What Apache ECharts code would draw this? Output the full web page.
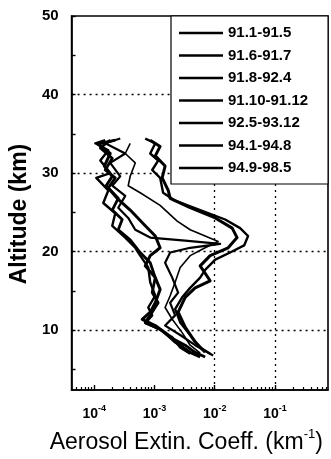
<!DOCTYPE html>
<html><head><meta charset="utf-8">
<script src="https://cdn.jsdelivr.net/npm/echarts@6/dist/echarts.min.js"></script>
<style>html,body{margin:0;padding:0;background:#fff}#c{width:331px;height:459px}</style>
</head><body><div id="c"></div>
<script>
// ---- data (altitude km, aerosol extinction coefficient km^-1) ----
const seriesNames = ['91.1-91.5','91.6-91.7','91.8-92.4','91.10-91.12','92.5-93.12','94.1-94.8','94.9-98.5'];

const alt_91_1 = [34.2,33.2,31.9,30.4,29.4,28.1,26.8,25.3,24.1,22.8,21.5,19.9,18.6,16.7,14.8,13.5,11.9,11.0,10.1,9.1,8.1,7.2,6.6];
const ext_91_1 = [1.84e-4,1.26e-4,1.99e-4,1.52e-4,2.23e-4,1.71e-4,2.50e-4,1.99e-4,2.91e-4,2.50e-4,3.95e-4,5.79e-4,8.49e-4,1.03e-3,9.16e-4,1.15e-3,8.49e-4,7.02e-4,1.24e-3,1.82e-3,3.23e-3,4.73e-3,6.93e-3];

const alt_91_6 = [34.4,33.8,32.5,31.3,29.6,28.4,27.1,25.6,24.3,22.8,21.8,21.4,21.0,20.5,19.9,18.6,16.7,14.8,13.5,11.9,10.6,9.4,8.1,6.8];
const ext_91_6 = [2.70e-4,1.52e-4,3.27e-4,1.84e-4,2.70e-4,1.99e-4,3.27e-4,2.50e-4,3.66e-4,4.79e-4,8.49e-4,3.23e-3,1.23e-2,3.91e-3,1.82e-3,1.50e-3,1.97e-3,2.47e-3,1.82e-3,2.20e-3,1.50e-3,2.67e-3,4.73e-3,9.40e-3];

const alt_91_8 = [34.4,33.8,32.5,31.6,30.4,29.4,27.5,26.5,25.3,24.1,23.0,22.0,20.8,19.9,19.0,17.7,16.7,15.4,14.2,12.7,11.0,9.4,7.8,7.0];
const ext_91_8 = [7.02e-4,1.03e-3,8.49e-4,1.15e-3,9.16e-4,1.24e-3,1.39e-3,2.20e-3,5.73e-3,1.49e-2,2.64e-2,3.58e-2,3.08e-2,1.80e-2,1.02e-2,6.93e-3,5.73e-3,3.91e-3,2.88e-3,2.20e-3,2.67e-3,3.91e-3,5.73e-3,8.39e-3];

const alt_91_10 = [34.2,33.4,32.2,30.9,29.4,27.8,26.8,25.6,24.3,23.0,21.8,20.5,19.5,18.2,16.3,15.4,14.2,12.3,10.4,8.5,7.2];
const ext_91_10 = [8.49e-4,1.24e-3,1.03e-3,1.50e-3,1.34e-3,1.69e-3,1.82e-3,3.91e-3,1.02e-2,1.95e-2,2.35e-2,1.67e-2,8.39e-3,5.73e-3,8.39e-3,4.73e-3,3.23e-3,2.47e-3,3.23e-3,4.73e-3,6.93e-3];

const alt_92_5 = [33.8,32.5,31.3,29.6,28.4,27.5,25.9,23.9,22.8,22.0,21.3,20.5,19.5,18.0,16.1,14.4,12.9,11.4,9.7,8.1,7.1];
const ext_92_5 = [3.95e-4,3.27e-4,4.79e-4,3.95e-4,3.66e-4,5.79e-4,1.24e-3,2.38e-3,3.91e-3,6.93e-3,1.14e-2,6.93e-3,3.91e-3,2.67e-3,2.20e-3,1.82e-3,1.50e-3,1.97e-3,2.88e-3,3.91e-3,5.73e-3];

const alt_94_1 = [34.2,33.7,32.5,30.9,29.6,28.4,26.8,25.3,23.3,22.0,20.5,19.5,18.2,16.7,15.2,13.5,12.3,11.4,10.6,9.7,8.5,7.2,6.6];
const ext_94_1 = [2.23e-4,1.16e-4,1.84e-4,1.47e-4,1.99e-4,1.58e-4,2.40e-4,3.95e-4,7.02e-4,1.03e-3,1.24e-3,8.49e-4,7.02e-4,1.03e-3,1.24e-3,1.03e-3,8.49e-4,6.25e-4,1.03e-3,1.50e-3,2.20e-3,3.91e-3,5.73e-3];

const alt_94_9 = [34.2,33.8,32.9,31.6,30.0,29.4,27.8,26.2,24.9,23.3,21.8,20.5,19.5,18.0,16.1,14.4,12.9,11.9,10.9,10.1,9.1,7.8,7.0];
const ext_94_9 = [1.52e-4,1.04e-4,1.71e-4,1.26e-4,1.84e-4,1.08e-4,1.71e-4,1.41e-4,2.23e-4,1.99e-4,3.27e-4,4.79e-4,5.79e-4,7.87e-4,8.49e-4,1.03e-3,7.87e-4,9.16e-4,7.02e-4,1.24e-3,1.97e-3,2.67e-3,3.91e-3];

const xTickLabels = [1e-4, 1e-3, 1e-2, 1e-1];
const xMinorTicks = [5e-5,6e-5,7e-5,8e-5,9e-5,2e-4,3e-4,4e-4,5e-4,6e-4,7e-4,8e-4,9e-4,2e-3,3e-3,4e-3,5e-3,6e-3,7e-3,8e-3,9e-3,2e-2,3e-2,4e-2,5e-2,6e-2,7e-2,8e-2,9e-2,2e-1,3e-1,4e-1,5e-1,6e-1,7e-1];
const yTickLabels = [10, 20, 30, 40, 50];
const yTicks = [5, 10, 15, 20, 25, 30, 35, 40, 45, 50];
const yGridLines = [10, 20, 30, 40];

const profiles = [
  [alt_91_1, ext_91_1, 2.8],
  [alt_91_6, ext_91_6, 2.2],
  [alt_91_8, ext_91_8, 2.4],
  [alt_91_10, ext_91_10, 3.0],
  [alt_92_5, ext_92_5, 1.6],
  [alt_94_1, ext_94_1, 3.0],
  [alt_94_9, ext_94_9, 2.4]
];

const FONT = '"Liberation Sans", Arial, Helvetica, sans-serif';
const XMIN = 4.2e-5, XMAX = 0.76, YMIN = 2.4, YMAX = 50;

const dotted = { color: '#000', width: 1.3, type: [2, 4] };

const series = profiles.map((p, i) => ({
  name: seriesNames[i],
  type: 'line',
  symbol: 'none',
  smooth: false,
  xAxisIndex: 0,
  yAxisIndex: 0,
  lineStyle: { color: '#000', width: p[2], join: 'round' },
  itemStyle: { color: '#000' },
  data: p[1].map((v, k) => [v, p[0][k]]),
  z: 3
}));

series.push({
  type: 'line',
  data: [],
  silent: true,
  markLine: {
    silent: true,
    symbol: 'none',
    label: { show: false },
    lineStyle: dotted,
    animation: false,
    data: xTickLabels.map(v => ({ xAxis: v })).concat(yGridLines.map(v => ({ yAxis: v })))
  },
  z: 1
});

const chart = echarts.init(document.getElementById('c'), null, { renderer: 'canvas' });
chart.setOption({
  animation: false,
  backgroundColor: '#fff',
  textStyle: { fontFamily: FONT, color: '#000' },
  grid: { left: 71, right: 3, top: 16, bottom: 66, show: true, borderColor: '#000', borderWidth: 1.6, backgroundColor: 'transparent' },
  legend: {
    data: seriesNames,
    orient: 'vertical',
    left: 171,
    top: 16,
    icon: 'rect',
    itemWidth: 44,
    itemHeight: 2.4,
    itemGap: 6.5,
    padding: [9, 20, 8, 8],
    backgroundColor: '#fff',
    borderColor: '#000',
    borderWidth: 1.2,
    borderRadius: 0,
    selectedMode: false,
    itemStyle: { color: '#000', borderWidth: 0 },
    textStyle: { fontFamily: FONT, fontSize: 15, fontWeight: 'bold', color: '#000', lineHeight: 16 },
    z: 10
  },
  xAxis: [{
    type: 'log',
    logBase: 10,
    min: XMIN,
    max: XMAX,
    name: '{a|Aerosol Extin. Coeff. (km}{s|-1}{a|)}',
    nameLocation: 'middle',
    nameGap: 38,
    nameTextStyle: {
      padding: [0, 27, 0, 0],
      rich: {
        a: { fontFamily: FONT, fontSize: 23, color: '#000', lineHeight: 26, verticalAlign: 'bottom' },
        s: { fontFamily: FONT, fontSize: 13, color: '#000', lineHeight: 26, verticalAlign: 'top' }
      }
    },
    axisLine: { show: true, lineStyle: { color: '#000', width: 1.6 } },
    axisTick: { show: true, inside: true, length: 5, customValues: xTickLabels, lineStyle: { color: '#000', width: 1.4 } },
    axisLabel: {
      customValues: xTickLabels,
      margin: 14,
      formatter: v => '{b|10}{s|' + Math.round(Math.log10(v)) + '}',
      rich: {
        b: { fontFamily: FONT, fontSize: 14, fontWeight: 'bold', color: '#000', lineHeight: 17, verticalAlign: 'bottom' },
        s: { fontFamily: FONT, fontSize: 9, fontWeight: 'bold', color: '#000', lineHeight: 17, verticalAlign: 'top' }
      }
    },
    splitLine: { show: false },
    minorTick: { show: false }
  }, {
    type: 'log',
    logBase: 10,
    min: XMIN,
    max: XMAX,
    position: 'bottom',
    axisLine: { show: false },
    axisTick: { show: true, inside: true, length: 3, customValues: xMinorTicks, lineStyle: { color: '#000', width: 1.2 } },
    axisLabel: { show: false },
    splitLine: { show: false }
  }],
  yAxis: {
    type: 'value',
    min: YMIN,
    max: YMAX,
    name: 'Altitude (km)',
    nameLocation: 'middle',
    nameGap: 40,
    nameTextStyle: { fontFamily: FONT, fontSize: 23, fontWeight: 'bold', color: '#000', padding: [0, 22, 0, 0] },
    axisLine: { show: true, lineStyle: { color: '#000', width: 1.6 } },
    axisTick: { show: true, inside: true, length: 4, customValues: yTicks, lineStyle: { color: '#000', width: 1.4 } },
    axisLabel: { customValues: yTickLabels, margin: 13, fontFamily: FONT, fontSize: 15, fontWeight: 'bold', color: '#000' },
    splitLine: { show: false }
  },
  series: series
});
</script>
</body></html>
